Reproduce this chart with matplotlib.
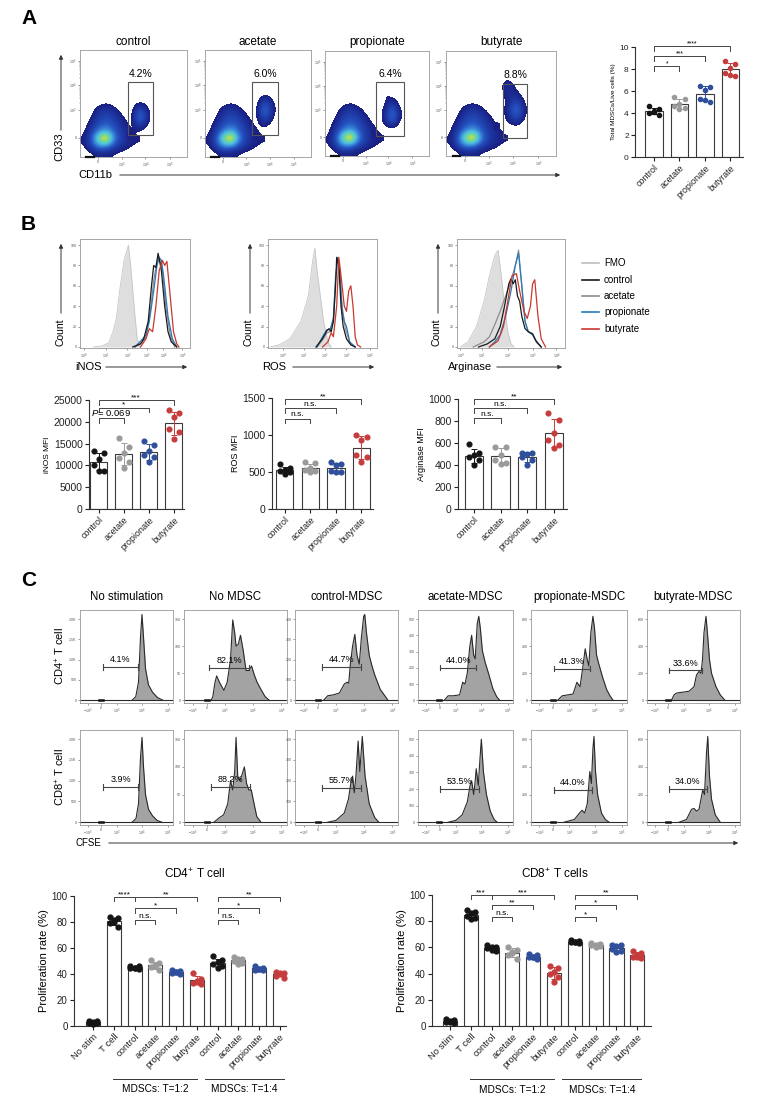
import numpy as np
import matplotlib

matplotlib.use('Agg')
import matplotlib.pyplot as plt
from matplotlib.colors import LinearSegmentedColormap, Normalize
from matplotlib.patches import FancyArrowPatch, Rectangle
from matplotlib.lines import Line2D

W, H = 766, 1106

# ---------------- panel A: CD33 x CD11b density plots + bar chart ----------------
treatments = ['control', 'acetate', 'propionate', 'butyrate']
gate_pct = ['4.2%', '6.0%', '6.4%', '8.8%']
# gate rectangles (x0, x1, y0, y1) in plot fraction
gate_boxes = [(0.45, 0.68, 0.21, 0.70), (0.44, 0.69, 0.21, 0.70),
              (0.49, 0.76, 0.19, 0.70), (0.52, 0.74, 0.17, 0.69)]
# main population density, rows top -> bottom
main_density = [
    [0, 0, 0, 0.03, 0, 0, 0, 0],
    [0, 0.02, 0.12, 0.16, 0.10, 0.02, 0, 0],
    [0, 0.06, 0.18, 0.22, 0.18, 0.09, 0.02, 0],
    [0.02, 0.12, 0.24, 0.30, 0.24, 0.14, 0.06, 0.02],
    [0.04, 0.18, 0.36, 0.45, 0.30, 0.18, 0.11, 0.05],
    [0.07, 0.26, 0.72, 1.00, 0.40, 0.20, 0.12, 0.08],
    [0.06, 0.22, 0.42, 0.40, 0.25, 0.15, 0.10, 0.06],
    [0, 0.05, 0.09, 0.08, 0.06, 0.04, 0.02, 0],
]
mdsc_control = [[0, 0, 0, 0], [0, 0, 0, 0], [0, 0, 0, 0], [0, 0.04, 0, 0],
                [0, 0.32, 0.05, 0], [0.02, 0.45, 0.06, 0], [0.04, 0.14, 0.02, 0],
                [0.10, 0.02, 0, 0]]
mdsc_acetate = [[0, 0, 0, 0], [0, 0, 0, 0], [0, 0.03, 0, 0], [0, 0.24, 0.06, 0],
                [0.02, 0.45, 0.09, 0], [0.02, 0.28, 0.05, 0], [0.03, 0.07, 0, 0],
                [0.10, 0, 0, 0]]
mdsc_propionate = [[0, 0, 0, 0], [0, 0, 0, 0], [0, 0.13, 0, 0], [0, 0.02, 0.14, 0],
                   [0, 0.06, 0.36, 0.03], [0.02, 0.06, 0.45, 0.04], [0.05, 0.04, 0.11, 0],
                   [0.10, 0, 0, 0]]
mdsc_butyrate = [[0, 0, 0, 0], [0, 0.18, 0.02, 0], [0, 0.15, 0.09, 0], [0, 0.08, 0.24, 0.02],
                 [0, 0.10, 0.44, 0.04], [0.04, 0.06, 0.30, 0.03], [0.11, 0.03, 0.05, 0],
                 [0.03, 0, 0, 0]]
mdsc_grids = [mdsc_control, mdsc_acetate, mdsc_propionate, mdsc_butyrate]

total_mdsc = [[4.6, 4.4, 4.2, 4.0, 3.8, 4.1],
              [5.5, 5.3, 4.8, 4.6, 4.5, 4.4],
              [6.5, 6.4, 6.1, 5.3, 5.0, 5.2],
              [8.7, 8.5, 8.1, 7.6, 7.4, 7.5]]

# ---------------- panel B: histograms + MFI bars ----------------
curve_names = ['FMO', 'control', 'acetate', 'propionate', 'butyrate']
inos_curves = {
    'FMO': ([0.12, 0.2, 0.26, 0.3, 0.33, 0.36, 0.4, 0.44, 0.46, 0.48, 0.5, 0.52, 0.55],
            [0, 1, 4, 15, 28, 55, 85, 100, 80, 55, 30, 8, 0]),
    'control': ([0.48, 0.55, 0.58, 0.62, 0.65, 0.67, 0.69, 0.71, 0.74, 0.77, 0.8, 0.83, 0.88],
                [0, 3, 8, 25, 60, 80, 78, 92, 75, 40, 15, 5, 0]),
    'acetate': ([0.5, 0.56, 0.6, 0.64, 0.67, 0.7, 0.72, 0.75, 0.78, 0.82, 0.86],
                [0, 4, 10, 35, 65, 84, 88, 75, 40, 12, 0]),
    'propionate': ([0.5, 0.57, 0.6, 0.63, 0.67, 0.7, 0.72, 0.74, 0.76, 0.8, 0.84, 0.88],
                   [0, 8, 12, 25, 55, 80, 88, 85, 70, 30, 8, 0]),
    'butyrate': ([0.55, 0.6, 0.63, 0.66, 0.69, 0.72, 0.75, 0.77, 0.79, 0.82, 0.85, 0.88, 0.9],
                 [0, 8, 18, 15, 40, 75, 85, 80, 84, 50, 15, 3, 0]),
}
ros_curves = {
    'FMO': ([0.02, 0.1, 0.2, 0.3, 0.37, 0.41, 0.43, 0.45, 0.48, 0.51, 0.55, 0.58],
            [0, 2, 8, 25, 50, 85, 97, 75, 50, 25, 5, 0]),
    'control': ([0.44, 0.5, 0.54, 0.56, 0.58, 0.6, 0.62, 0.63, 0.65, 0.67, 0.69, 0.72, 0.76, 0.8],
                [0, 8, 16, 18, 15, 25, 60, 88, 80, 40, 20, 8, 2, 0]),
    'acetate': ([0.45, 0.5, 0.54, 0.57, 0.6, 0.62, 0.64, 0.66, 0.68, 0.71, 0.75, 0.8],
                [0, 7, 14, 15, 28, 70, 86, 72, 40, 18, 4, 0]),
    'propionate': ([0.45, 0.5, 0.54, 0.57, 0.6, 0.62, 0.64, 0.66, 0.68, 0.7, 0.72, 0.75, 0.8],
                   [0, 10, 17, 17, 28, 65, 88, 70, 35, 25, 20, 5, 0]),
    'butyrate': ([0.5, 0.55, 0.58, 0.6, 0.63, 0.65, 0.67, 0.7, 0.72, 0.74, 0.76, 0.78, 0.8, 0.82, 0.85],
                 [0, 5, 14, 10, 40, 88, 70, 40, 35, 55, 60, 40, 10, 2, 0]),
}
arg_curves = {
    'FMO': ([0.03, 0.1, 0.18, 0.25, 0.3, 0.35, 0.38, 0.41, 0.44, 0.47, 0.5, 0.53],
            [0, 5, 20, 45, 70, 90, 95, 70, 40, 15, 3, 0]),
    'control': ([0.2, 0.28, 0.35, 0.4, 0.44, 0.48, 0.5, 0.52, 0.54, 0.56, 0.58, 0.6, 0.63, 0.66, 0.7, 0.73, 0.78],
                [0, 3, 8, 20, 40, 62, 67, 62, 66, 50, 45, 30, 18, 15, 13, 6, 0]),
    'acetate': ([0.15, 0.25, 0.3, 0.35, 0.4, 0.45, 0.5, 0.54, 0.57, 0.6, 0.63, 0.66, 0.7, 0.74, 0.78],
                [0, 5, 10, 22, 35, 50, 65, 80, 95, 60, 25, 15, 12, 4, 0]),
    'propionate': ([0.3, 0.35, 0.4, 0.45, 0.5, 0.54, 0.57, 0.6, 0.63, 0.66, 0.7, 0.74, 0.78],
                   [0, 5, 12, 30, 55, 80, 92, 60, 25, 15, 12, 5, 0]),
    'butyrate': ([0.3, 0.38, 0.43, 0.47, 0.51, 0.55, 0.58, 0.62, 0.65, 0.68, 0.7, 0.72, 0.75, 0.78, 0.82],
                 [0, 6, 20, 45, 70, 72, 55, 35, 28, 40, 62, 66, 30, 8, 0]),
}
inos_mfi = [[13380, 12770, 11470, 10090, 8720, 8720],
            [16360, 14300, 12770, 11620, 10860, 9330],
            [15600, 14680, 13300, 12390, 12000, 10700],
            [22700, 21940, 21020, 18350, 17740, 16060]]
ros_mfi = [[602, 548, 525, 512, 494, 467],
           [638, 615, 548, 525, 512, 494],
           [638, 606, 593, 512, 494, 494],
           [997, 974, 929, 727, 705, 638]]
arg_mfi = [[588, 506, 491, 476, 445, 400],
           [567, 567, 491, 445, 415, 406],
           [506, 506, 497, 476, 445, 400],
           [870, 809, 688, 627, 582, 557]]

# ---------------- panel C: CFSE histograms + proliferation bars ----------------
c_titles = ['No stimulation', 'No MDSC', 'control-MDSC', 'acetate-MDSC',
            'propionate-MSDC', 'butyrate-MDSC']
cd4_hists = [
    ([0.6, 0.75, 0.86, 0.94, 1.0, 1.06, 1.14, 1.26, 1.42, 1.62, 1.84],
     [0, 0.04, 0.2, 0.7, 0.95, 0.7, 0.35, 0.17, 0.09, 0.03, 0]),
    ([-0.5, -0.44, -0.36, -0.3, -0.2, -0.04, 0.08, 0.2, 0.28, 0.35, 0.4, 0.48, 0.56,
      0.66, 0.76, 0.86, 0.96, 1.06, 1.16, 1.3, 1.45, 1.6],
     [0, 0.04, 0.2, 0.27, 0.2, 0.11, 0.2, 0.45, 0.89, 0.75, 0.6, 0.62, 0.72,
      0.55, 0.33, 0.33, 0.38, 0.28, 0.2, 0.12, 0.04, 0]),
    ([-0.45, -0.3, -0.1, 0.12, 0.3, 0.4, 0.46, 0.52, 0.6, 0.68, 0.76, 0.84, 0.92, 1.0,
      1.04, 1.1, 1.2, 1.3, 1.4, 1.6, 1.88],
     [0, 0.05, 0.06, 0.08, 0.18, 0.2, 0.19, 0.4, 0.6, 0.73, 0.5, 0.4, 0.7, 0.93,
      0.95, 0.75, 0.5, 0.38, 0.28, 0.12, 0]),
    ([-0.45, -0.3, -0.1, 0.15, 0.27, 0.36, 0.45, 0.55, 0.62, 0.7, 0.76, 0.84, 0.9, 0.96,
      1.04, 1.15, 1.3, 1.45, 1.6, 1.72],
     [0, 0.05, 0.05, 0.06, 0.2, 0.18, 0.3, 0.6, 0.72, 0.5, 0.46, 0.85, 0.93, 0.8,
      0.55, 0.42, 0.28, 0.13, 0.04, 0]),
    ([-0.45, -0.27, -0.05, 0.15, 0.3, 0.42, 0.52, 0.62, 0.7, 0.76, 0.84, 0.92, 0.98,
      1.06, 1.15, 1.3, 1.45, 1.58, 1.7],
     [0, 0.05, 0.06, 0.07, 0.2, 0.15, 0.35, 0.57, 0.45, 0.38, 0.75, 0.93, 0.8,
      0.5, 0.4, 0.25, 0.12, 0.05, 0]),
    ([-0.5, -0.4, -0.3, 0.2, 0.4, 0.5, 0.6, 0.68, 0.74, 0.8, 0.88, 0.95, 1.02, 1.1,
      1.28, 1.45, 1.64],
     [0, 0.06, 0.08, 0.1, 0.15, 0.28, 0.32, 0.3, 0.45, 0.75, 0.93, 0.7, 0.45, 0.3,
      0.15, 0.06, 0]),
]
cd8_hists = [
    ([0.6, 0.76, 0.86, 0.94, 1.0, 1.06, 1.14, 1.26, 1.42, 1.6, 1.8],
     [0, 0.04, 0.2, 0.7, 0.92, 0.6, 0.3, 0.14, 0.07, 0.02, 0]),
    ([-0.4, -0.2, -0.05, 0.1, 0.2, 0.28, 0.35, 0.4, 0.46, 0.54, 0.62, 0.7, 0.78, 0.86,
      0.95, 1.05, 1.15, 1.3],
     [0, 0.05, 0.08, 0.2, 0.45, 0.35, 0.55, 0.92, 0.5, 0.45, 0.52, 0.6, 0.42, 0.35,
      0.35, 0.2, 0.06, 0]),
    ([-0.3, 0, 0.3, 0.45, 0.55, 0.6, 0.66, 0.72, 0.8, 0.86, 0.95, 1.05, 1.2, 1.4, 1.55],
     [0, 0.02, 0.1, 0.25, 0.45, 0.5, 0.32, 0.5, 0.88, 0.55, 0.93, 0.5, 0.2, 0.05, 0]),
    ([-0.3, 0, 0.25, 0.45, 0.56, 0.62, 0.7, 0.76, 0.8, 0.88, 0.95, 1.0, 1.08, 1.2, 1.35,
      1.5, 1.62],
     [0, 0.02, 0.08, 0.22, 0.4, 0.45, 0.3, 0.45, 0.58, 0.4, 0.7, 0.9, 0.55, 0.3, 0.12,
      0.03, 0]),
    ([-0.2, 0.2, 0.4, 0.5, 0.6, 0.7, 0.8, 0.86, 0.92, 0.96, 1.02, 1.1, 1.25, 1.4, 1.55],
     [0, 0.03, 0.1, 0.13, 0.1, 0.2, 0.55, 0.42, 0.8, 0.93, 0.55, 0.3, 0.1, 0.03, 0]),
    ([-0.2, 0.1, 0.3, 0.4, 0.5, 0.6, 0.75, 0.82, 0.9, 0.95, 1.02, 1.1, 1.25, 1.45],
     [0, 0.03, 0.14, 0.15, 0.12, 0.14, 0.35, 0.3, 0.75, 0.93, 0.5, 0.25, 0.08, 0]),
]
# CFSE gates: (start, end, height, label)
cd4_gates = [(-0.56, 0.85, 0.37, '4.1%'), (-0.56, 0.88, 0.36, '82.1%'),
             (-0.52, 0.92, 0.37, '44.7%'), (-0.6, 0.8, 0.36, '44.0%'),
             (-0.58, 0.8, 0.35, '41.3%'), (-0.6, 0.72, 0.33, '33.6%')]
cd8_gates = [(-0.56, 0.85, 0.38, '3.9%'), (-0.5, 0.9, 0.38, '88.2%'),
             (-0.5, 0.92, 0.37, '55.7%'), (-0.6, 0.9, 0.36, '53.5%'),
             (-0.6, 0.9, 0.35, '44.0%'), (-0.6, 0.9, 0.36, '34.0%')]
c_count_labels = [['0', '500', '1.0K', '1.5K', '2.0K'], ['0', '50', '100', '150'],
                  ['0', '100', '200', '300', '400'], ['0', '100', '200', '300', '400', '500'],
                  ['0', '200', '400', '600'], ['0', '200', '400', '600']]

prolif_labels = ['No stim', 'T cell', 'control', 'acetate', 'propionate', 'butyrate',
                 'control', 'acetate', 'propionate', 'butyrate']
cd4_prolif = [[4, 3.5, 3, 2.5, 2, 1.5],
              [83.5, 82.8, 81.5, 79.5, 76, 80],
              [46.5, 45.8, 45, 44.5, 43.5, 44.8],
              [50.5, 48.5, 47, 45.5, 43, 46],
              [43.3, 42.4, 41.6, 41, 40, 41.2],
              [40.5, 36.5, 34, 32.8, 32.2, 35],
              [53.5, 50.6, 49.4, 48, 46, 45],
              [53.2, 51.9, 51.2, 50.1, 48.6, 47.6],
              [46, 45, 44.2, 43.4, 43, 44],
              [41.6, 40.9, 39.8, 38.3, 37.3, 40.4]]
cd8_prolif = [[5, 4.5, 3.8, 3, 2.5, 3.2],
              [88.5, 87.2, 86, 84, 82.1, 81.4],
              [61.7, 60.5, 60, 59.2, 57.4, 58],
              [60.5, 58, 55.9, 54, 50.8, 56.6],
              [54.8, 54, 52.8, 52.3, 51.5, 52.3],
              [45.7, 43.9, 41.3, 40, 37.5, 33.7],
              [65.5, 65, 64.5, 64, 63.5, 63.8],
              [63, 62.5, 62, 61.5, 61, 60.5],
              [62, 61.8, 61, 59, 57, 56.5],
              [57.5, 56, 54, 53, 52, 52.5]]

# significance brackets: (from, to, height, text)
sig_total = [(0, 1, 8.27, '*'), (0, 2, 9.2, '***'), (0, 3, 10.1, '****')]
sig_inos = [(0, 1, 20800, ''), (0, 2, 23240, '*'), (0, 3, 25000, '***')]
sig_ros = [(0, 1, 1221, 'n.s.'), (0, 2, 1365, 'n.s.'), (0, 3, 1490, '**')]
sig_arg = [(0, 1, 824, 'n.s.'), (0, 2, 915, 'n.s.'), (0, 3, 1000, '**')]
sig_cd4 = [(1, 2, 99, '****'), (2, 5, 99, '**'), (2, 4, 90.5, '*'), (2, 3, 81.5, 'n.s.'),
           (6, 9, 99, '**'), (6, 8, 90.5, '*'), (6, 7, 81.5, 'n.s.')]
sig_cd8 = [(1, 2, 100, '***'), (2, 5, 100, '***'), (2, 4, 92.3, '**'), (2, 3, 83, 'n.s.'),
           (6, 9, 100, '**'), (6, 8, 92.3, '*'), (6, 7, 83, '*')]

BLACK, GRAY, BLUE, RED = '#151515', '#9a9a9a', '#2f4f9c', '#c63c3c'
four_colors = [BLACK, GRAY, BLUE, RED]
ten_colors = [BLACK, BLACK, BLACK, GRAY, BLUE, RED, BLACK, GRAY, BLUE, RED]
curve_colors = {'FMO': '#c8c8c8', 'control': '#1a1a1a', 'acetate': '#8c8c8c',
                'propionate': '#2a7ab8', 'butyrate': '#c8382e'}
POINT_OFFSETS = [-0.2, 0.2, 0.0, -0.2, 0.2, 0.0]

plt.rcParams['font.family'] = ['Liberation Sans', 'DejaVu Sans']
plt.rcParams['mathtext.fontset'] = 'custom'
plt.rcParams['mathtext.rm'] = 'Liberation Sans'
plt.rcParams['mathtext.it'] = 'Liberation Sans:italic'
plt.rcParams['axes.linewidth'] = 0.8

fig = plt.figure(figsize=(W / 100, H / 100), dpi=100)


def px_axes(l, t, r, b):
    return fig.add_axes([l / W, 1 - b / H, (r - l) / W, (b - t) / H])


def ftext(x, y, s, **kw):
    fig.text(x / W, 1 - y / H, s, **kw)


def farrow(x0, y0, x1, y1):
    fig.add_artist(FancyArrowPatch((x0 / W, 1 - y0 / H), (x1 / W, 1 - y1 / H),
                                   transform=fig.transFigure, arrowstyle='-|>',
                                   mutation_scale=6, lw=0.7, color='#333'))


def fline(x0, x1, y, color, lw=1.2):
    fig.add_artist(Line2D([x0 / W, x1 / W], [1 - y / H, 1 - y / H],
                          transform=fig.transFigure, color=color, lw=lw))


def flow_frame(ax):
    for s in ax.spines.values():
        s.set_color('#9a9a9a')
        s.set_linewidth(0.6)
    ax.tick_params(length=1.5, width=0.4, labelsize=2.6, pad=1, colors='#555')


def minor_log(ax, majors, axis='x'):
    minors = []
    for a, b in zip(majors[:-1], majors[1:]):
        minors += [a + np.log10(k) * (b - a) for k in range(2, 10)]
    if axis == 'x':
        ax.set_xticks(minors, minor=True)
    else:
        ax.set_yticks(minors, minor=True)
    ax.tick_params(which='minor', length=1, width=0.3, colors='#777')


def bar_panel(ax, groups, colors, labels, xlim, ylim, yticks, ylabel, sigs, drop,
              tick_fs, xlab_fs, ylab_fs, ms, sig_fs):
    x = np.arange(len(groups))
    means = [np.mean(g) for g in groups]
    sds = [np.std(g, ddof=1) for g in groups]
    ax.bar(x, means, width=0.68, color='white', edgecolor='#3a3a3a', linewidth=0.8, zorder=1)
    for i, g in enumerate(groups):
        ax.errorbar(i, means[i], yerr=sds[i], color=colors[i], capsize=2.2, capthick=0.7,
                    elinewidth=0.7, zorder=2)
        ax.plot(i + np.array(POINT_OFFSETS[:len(g)]), g, 'o', ms=ms, color=colors[i],
                mec=colors[i], zorder=3, clip_on=False)
    ax.set_xlim(*xlim)
    ax.set_ylim(*ylim)
    ax.set_yticks(yticks)
    ax.set_yticklabels([str(v) for v in yticks], fontsize=tick_fs)
    ax.set_xticks(x)
    ax.set_xticklabels(labels, rotation=45, ha='right', rotation_mode='anchor', fontsize=xlab_fs)
    ax.set_ylabel(ylabel, fontsize=ylab_fs, labelpad=2)
    ax.spines[['top', 'right']].set_visible(False)
    for s in ('left', 'bottom'):
        ax.spines[s].set_color('#333')
    ax.tick_params(length=3, width=0.8, pad=1.5, colors='#222')
    for i, j, y, txt in sigs:
        ax.plot([i, i, j, j], [y - drop, y, y, y - drop], color='#444', lw=0.7, clip_on=False)
        if txt:
            dy = -0.25 * drop if '*' in txt else 0.05 * drop
            ax.text((i + j) / 2, y + dy, txt, ha='center', va='bottom', fontsize=sig_fs,
                    clip_on=False)


# ================= panel A =================
flow_cmap = LinearSegmentedColormap.from_list('flow', [
    (0.0, '#1a1f80'), (0.1, '#1d35a0'), (0.22, '#2552c0'), (0.35, '#3a8ad8'),
    (0.48, '#50c0e0'), (0.6, '#6ad6a0'), (0.72, '#c8e040'), (0.84, '#f0a020'),
    (1.0, '#e01818')])
flow_cmap.set_under((1, 1, 1, 0))
flow_norm = Normalize(vmin=0.07, vmax=1.0)

ftext(21, 19, 'A', fontsize=15, fontweight='bold', va='center')
dens_boxes = [(80, 50, 187, 157), (205, 50, 311, 157), (325, 51, 429, 156), (446, 51, 556, 156)]
for k, name in enumerate(treatments):
    l, t, r, b = dens_boxes[k]
    ax = px_axes(l, t, r, b)
    ax.imshow(np.array(main_density), extent=(0, 0.56, 0, 0.56), cmap=flow_cmap, norm=flow_norm,
              interpolation='bicubic', interpolation_stage='data', aspect='auto', zorder=1)
    ax.imshow(np.array(mdsc_grids[k]), extent=(0.44, 0.76, 0.16, 0.80), cmap=flow_cmap,
              norm=flow_norm, interpolation='bicubic', interpolation_stage='data',
              aspect='auto', zorder=1)
    gx0, gx1, gy0, gy1 = gate_boxes[k]
    ax.add_patch(Rectangle((gx0, gy0), gx1 - gx0, gy1 - gy0, fill=False, ec='#555', lw=0.8,
                           zorder=3))
    ax.text((gx0 + gx1) / 2, gy1 + 0.03, gate_pct[k], ha='center', va='bottom', fontsize=7.5)
    ax.set_xlim(0, 1)
    ax.set_ylim(0, 1)
    ax.set_xticks([0.17, 0.39, 0.61, 0.84])
    ax.set_xticklabels(['0', '$10^3$', '$10^4$', '$10^5$'])
    ax.set_yticks([0.18, 0.44, 0.67, 0.9])
    ax.set_yticklabels(['0', '$10^3$', '$10^4$', '$10^5$'])
    minor_log(ax, [0.39, 0.61, 0.84], 'x')
    minor_log(ax, [0.44, 0.67, 0.9], 'y')
    flow_frame(ax)
    ax.plot([0.06, 0.13], [0.0, 0.0], color='#111', lw=1.6, clip_on=False, zorder=4)
    ftext((l + r) / 2, 42, name, ha='center', va='center', fontsize=8.5)

ftext(59, 147, 'CD33', rotation=90, ha='center', va='center', fontsize=8)
farrow(61, 133, 61, 52)
ftext(78, 175, 'CD11b', ha='left', va='center', fontsize=8)
farrow(117, 175, 563, 175)

ax = px_axes(635, 47, 743, 157)
bar_panel(ax, total_mdsc, four_colors, treatments, (-0.75, 3.5), (0, 10), [0, 2, 4, 6, 8, 10],
          'Total MDSCs/Live cells (%)', sig_total, 0.45, 6, 6.5, 4.6, 3.0, 5)

# ================= panel B =================
ftext(21, 224, 'B', fontsize=15, fontweight='bold', va='center')
hist_sets = [(inos_curves, (80, 239, 190, 348), [0.037, 0.236, 0.43, 0.606, 0.757, 0.93],
              'iNOS', 60, 75, 103),
             (ros_curves, (268, 239, 377, 348), [0.135, 0.33, 0.52, 0.72, 0.936],
              'ROS', 249, 262, 290),
             (arg_curves, (457, 239, 565, 348), [0.03, 0.23, 0.47, 0.70, 0.92],
              'Arginase', 437, 448, 494)]
for curves, (l, t, r, b), xt, xlab, cx, lx, ax0 in hist_sets:
    ax = px_axes(l, t, r, b)
    fx, fy = curves['FMO']
    ax.fill_between(fx, fy, 0, color='#dedede', lw=0, zorder=1)
    ax.plot(fx, fy, color='#c6c6c6', lw=0.6, zorder=1)
    for nm in ['acetate', 'propionate', 'control', 'butyrate']:
        xs, ys = curves[nm]
        ax.plot(xs, ys, color=curve_colors[nm], lw=0.9, zorder=2)
    ax.set_xlim(0, 1)
    ax.set_ylim(-1, 106)
    ax.set_xticks(xt)
    ax.set_xticklabels(['$10^{%d}$' % i for i in range(len(xt))])
    minor_log(ax, xt, 'x')
    ax.set_yticks([0, 20, 40, 60, 80, 100])
    flow_frame(ax)
    ftext(cx, 332, 'Count', rotation=90, ha='center', va='center', fontsize=7.5)
    farrow(cx + 1, 316, cx + 1, 241)
    ftext(lx, 367, xlab, ha='left', va='center', fontsize=8)
    farrow(ax0, 367, r, 367)

leg_y = [263, 280, 296, 312, 329]
for nm, y in zip(curve_names, leg_y):
    fline(582, 599, y, curve_colors[nm] if nm != 'FMO' else '#bdbdbd')
    ftext(604, y, nm, ha='left', va='center', fontsize=7)

ax = px_axes(89, 400, 184, 509)
bar_panel(ax, inos_mfi, four_colors, treatments, (-0.38, 3.4), (0, 25000),
          [0, 5000, 10000, 15000, 20000, 25000], 'iNOS MFI', sig_inos, 1100, 7.5, 6.5, 6, 3.4, 6)
ax.text(0.5, 20800 + 80, '$\\it{P}$= 0.069', ha='center', va='bottom', fontsize=6.8)

ax = px_axes(272, 398, 373, 509)
bar_panel(ax, ros_mfi, four_colors, treatments, (-0.5, 3.45), (0, 1500),
          [0, 500, 1000, 1500], 'ROS MFI', sig_ros, 65, 7.5, 6.5, 6.5, 3.4, 6)

ax = px_axes(458, 399, 567, 509)
bar_panel(ax, arg_mfi, four_colors, treatments, (-0.6, 3.5), (0, 1000),
          [0, 200, 400, 600, 800, 1000], 'Arginase MFI', sig_arg, 45, 7.5, 6.5, 6.5, 3.4, 6)

# ================= panel C =================
ftext(21, 581, 'C', fontsize=15, fontweight='bold', va='center')
c_x = [(80, 173), (184, 287), (295, 398), (418, 513), (531, 627), (647, 740)]
c_rows = [((610, 703), cd4_hists, cd4_gates), ((730, 825), cd8_hists, cd8_gates)]
for (t, b), hists, gates in c_rows:
    for k, (l, r) in enumerate(c_x):
        ax = px_axes(l, t, r, b)
        u, y = hists[k]
        ax.fill_between(u, y, 0, color='#a3a3a3', lw=0, zorder=1)
        ax.plot(u, y, color='#2a2a2a', lw=0.8, zorder=2)
        ax.plot([-1.48, 2.24], [0, 0], color='#2a2a2a', lw=0.8, zorder=2)
        ax.plot([-0.72, -0.56], [0.005, 0.005], color='#111', lw=1.8, zorder=3)
        g0, g1, gy, glab = gates[k]
        ax.plot([g0, g1], [gy, gy], color='#444', lw=0.8, zorder=4)
        ax.plot([g0, g0], [gy - 0.03, gy + 0.03], color='#444', lw=0.8, zorder=4)
        ax.plot([g1, g1], [gy - 0.03, gy + 0.03], color='#444', lw=0.8, zorder=4)
        ax.text((g0 + g1) / 2, gy + 0.03, glab, ha='center', va='bottom', fontsize=6.5, zorder=5)
        ax.set_xlim(-1.48, 2.24)
        ax.set_ylim(-0.03, 1.0)
        ax.set_xticks([-1.16, -0.64, 0, 1, 2.04])
        ax.set_xticklabels(['$-10^3$', '0', '$10^3$', '$10^4$', '$10^5$'])
        minor_log(ax, [0, 1, 2.04], 'x')
        labs = c_count_labels[k]
        ax.set_yticks(np.linspace(0, 0.9, len(labs)))
        ax.set_yticklabels(labs)
        flow_frame(ax)
        if t == 610:
            ftext((l + r) / 2, 597, c_titles[k], ha='center', va='center', fontsize=8.3)

ftext(60, 656, 'CD4$^{+}$ T cell', rotation=90, ha='center', va='center', fontsize=8)
ftext(60, 777, 'CD8$^{+}$ T cell', rotation=90, ha='center', va='center', fontsize=8)
ftext(75, 843, 'CFSE', ha='left', va='center', fontsize=7)
farrow(106, 843, 741, 843)

for prolif, sigs, box, xlim, title, tx in [
        (cd4_prolif, sig_cd4, (74, 896, 286, 1026), (-0.92, 9.3), 'CD4$^{+}$ T cell', 195),
        (cd8_prolif, sig_cd8, (432, 895, 651, 1026), (-0.86, 9.66), 'CD8$^{+}$ T cells', 555)]:
    ax = px_axes(*box)
    bar_panel(ax, prolif, ten_colors, prolif_labels, xlim, (0, 100),
              [0, 20, 40, 60, 80, 100], 'Proliferation rate (%)', sigs, 3.2, 7, 6.8, 8, 3.5, 6)
    ftext(tx, 874, title, ha='center', va='center', fontsize=8.5)
    tr = ax.get_xaxis_transform()
    for x0, x1, lab in [(0.95, 5.0, 'MDSCs: T=1:2'), (5.4, 9.2, 'MDSCs: T=1:4')]:
        ax.plot([x0, x1], [-0.408, -0.408], color='#333', lw=0.7, transform=tr, clip_on=False)
        ax.text((x0 + x1) / 2, -0.485, lab, ha='center', va='center', fontsize=7.3,
                transform=tr)

fig.savefig('out.png', dpi=100)
